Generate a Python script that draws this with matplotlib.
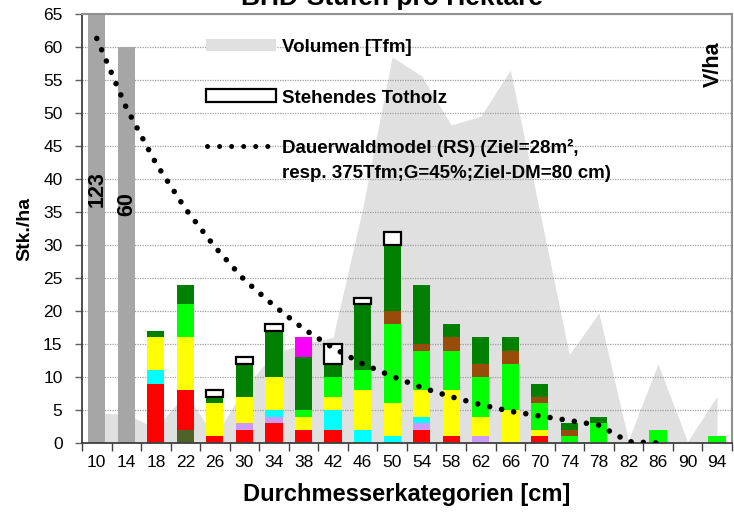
#!/usr/bin/python3
"""
	BHD-Stufen pro Hektare: Stammzahl nach Durchmesserkategorie.

"""
import matplotlib
matplotlib.use('Agg')
import matplotlib.pyplot as plt
import numpy as np
from matplotlib.patches import Rectangle
from matplotlib.lines import Line2D

plt.rcParams['font.family'] = ['Liberation Sans', 'DejaVu Sans']

kategorien = ['10', '14', '18', '22', '26', '30', '34', '38', '42', '46', '50',
              '54', '58', '62', '66', '70', '74', '78', '82', '86', '90', '94']

# Stk./ha pro Farbe (von unten nach oben gestapelt)
grau        = [123, 60, 0, 0, 0, 0, 0, 0, 0, 0, 0, 0, 0, 0, 0, 0, 0, 0, 0, 0, 0, 0]
oliv        = [0, 0, 0, 2, 0, 0, 0, 0, 0, 0, 0, 0, 0, 0, 0, 0, 0, 0, 0, 0, 0, 0]
rot         = [0, 0, 9, 6, 1, 2, 3, 2, 2, 0, 0, 2, 1, 0, 0, 1, 0, 0, 0, 0, 0, 0]
lila        = [0, 0, 0, 0, 0, 1, 1, 0, 0, 0, 0, 1, 0, 1, 0, 0, 0, 0, 0, 0, 0, 0]
tuerkis     = [0, 0, 2, 0, 0, 0, 1, 0, 3, 2, 1, 1, 0, 0, 0, 0, 0, 0, 0, 0, 0, 0]
gelb        = [0, 0, 5, 8, 5, 4, 5, 2, 2, 6, 5, 4, 7, 3, 5, 1, 0, 0, 0, 0, 0, 0]
hellgruen   = [0, 0, 0, 5, 0, 0, 0, 1, 3, 3, 12, 6, 6, 6, 7, 4, 1, 3, 0, 2, 0, 1]
braun       = [0, 0, 0, 0, 0, 0, 0, 0, 0, 0, 2, 1, 2, 2, 2, 1, 1, 0, 0, 0, 0, 0]
dunkelgruen = [0, 0, 1, 3, 1, 5, 7, 8, 2, 10, 10, 9, 2, 4, 2, 2, 1, 1, 0, 0, 0, 0]
magenta     = [0, 0, 0, 0, 0, 0, 0, 3, 0, 0, 0, 0, 0, 0, 0, 0, 0, 0, 0, 0, 0, 0]
totholz     = [0, 0, 0, 0, 1, 1, 1, 0, 3, 1, 2, 0, 0, 0, 0, 0, 0, 0, 0, 0, 0, 0]

# Dauerwaldmodel (Stk./ha)
dauerwald = [61.3, 50.8, 42.4, 35.5, 29.7, 24.7, 20.8, 17.3, 14.4, 12.0, 10.1,
             8.4, 7.0, 5.8, 4.8, 4.1, 3.4, 2.7, 0.2, 0.0, np.nan, np.nan]

# Volumen (V/ha, Sekundaerachse ohne Beschriftung)
volumen = [4.5, 4.4, 2.2, 7.5, 1.0, 8.3, 13.6, 15.0, 16.0, 35.5, 58.5,
           55.6, 48.2, 49.5, 56.5, 35.0, 13.4, 19.7, 0.4, 12.0, 0.2, 7.1]


def bhd_chart():
	''' gestapelte Balken der Stammzahlen mit Volumen und Dauerwaldmodel '''

	fig = plt.figure(figsize=(7.34, 5.16), dpi=100)
	ax = fig.add_axes([0.1117, 0.1415, 0.8853, 0.8314])
	ax_v = ax.twinx()
	ax.set_zorder(ax_v.get_zorder() + 1)
	ax.patch.set_visible(False)

	pos = np.arange(len(kategorien))
	breite = 0.58

	# Volumen als Flaeche im Hintergrund
	ax_v.fill_between(pos, volumen, color='#e0e0e0', linewidth=0)
	ax_v.set_ylim(0, 65)
	ax_v.set_yticks([])
	for s in ax_v.spines.values():
		s.set_visible(False)

	ax.bar(pos, grau, breite, color='#a6a6a6', zorder=2)

	schichten = [(oliv, '#4f6228'), (rot, '#ff0000'), (lila, '#cc99ff'),
	             (tuerkis, '#00ffff'), (gelb, '#ffff00'), (hellgruen, '#00ff00'),
	             (braun, '#994c0a'), (dunkelgruen, '#008000'), (magenta, '#ff00ff')]
	unten = np.zeros(len(pos))
	for werte, farbe in schichten:
		ax.bar(pos, werte, breite, bottom=unten, color=farbe, zorder=2)
		unten += np.array(werte)

	# stehendes Totholz als leerer Kasten oben auf dem Stapel
	tot = np.array(totholz)
	mit = tot > 0
	ax.bar(pos[mit], tot[mit], breite, bottom=unten[mit], facecolor='white',
	       edgecolor='black', linewidth=1.6, zorder=3)

	ax.plot(pos, dauerwald, color='black', linewidth=4.0,
	        linestyle=(0, (0.01, 2.2)), dash_capstyle='round', zorder=5)

	# Werte der abgeschnittenen Balken
	ax.text(0, 38.5, '123', rotation=90, ha='center', va='center',
	        fontsize=15.5, fontweight='bold', zorder=6)
	ax.text(1, 36.2, '60', rotation=90, ha='center', va='center',
	        fontsize=15.5, fontweight='bold', zorder=6)

	ax.set_xlim(-0.5, len(pos) - 0.5)
	ax.set_ylim(0, 65)
	ax.set_yticks(np.arange(0, 70, 5))
	ax.yaxis.grid(True, color='#a0a0a0', linestyle=(0, (1, 1)), linewidth=0.9)
	ax.set_axisbelow(True)

	ax.set_xticks(pos)
	ax.set_xticklabels(kategorien)
	ax.set_xticks(np.arange(-0.5, len(pos), 1), minor=True)
	ax.tick_params(axis='x', which='major', length=0, pad=9, labelsize=12.5)
	ax.tick_params(axis='x', which='minor', length=6, width=1, color='#404040')
	ax.tick_params(axis='y', length=5, width=1, color='#606060', pad=9, labelsize=12.5)

	for side in ['top', 'right']:
		ax.spines[side].set_color('#909090')
		ax.spines[side].set_linewidth(1.5)
	for side in ['left', 'bottom']:
		ax.spines[side].set_color('#404040')
		ax.spines[side].set_linewidth(1.3)

	ax.set_ylabel('Stk./ha', fontsize=14, fontweight='bold')
	ax.yaxis.set_label_coords(-0.0754, 0.5)
	ax.set_xlabel('Durchmesserkategorien [cm]', fontsize=17, fontweight='bold')
	ax.xaxis.set_label_coords(0.5, -0.093)
	ax.text(0.972, 0.883, 'V/ha', rotation=90, ha='center', va='center',
	        fontsize=15.5, fontweight='bold', transform=ax.transAxes)

	fig.text(392 / 734, 1 - 5.5 / 516, 'BHD-Stufen pro Hektare', ha='center',
	         va='baseline', fontsize=19, fontweight='bold')

	# Legende
	ax.add_patch(Rectangle((0.1908, 0.9145), 0.107, 0.0272, transform=ax.transAxes,
	                       facecolor='#e0e0e0', edgecolor='none', zorder=6))
	ax.add_patch(Rectangle((0.1908, 0.7956), 0.107, 0.0289, transform=ax.transAxes,
	                       facecolor='white', edgecolor='black', linewidth=1.6, zorder=6))
	ax.add_line(Line2D([0.1923, 0.2900], [0.6923, 0.6923], transform=ax.transAxes,
	                   color='black', linewidth=3.6, linestyle=(0, (0.01, 2.4)),
	                   dash_capstyle='round', zorder=6))
	ax.text(0.308, 0.923, 'Volumen [Tfm]', transform=ax.transAxes, va='center',
	        fontsize=13.5, fontweight='bold', zorder=6)
	ax.text(0.308, 0.802, 'Stehendes Totholz', transform=ax.transAxes, va='center',
	        fontsize=13.5, fontweight='bold', zorder=6)
	ax.text(0.308, 0.6587, 'Dauerwaldmodel (RS) (Ziel=28m²,\nresp. 375Tfm;G=45%;Ziel-DM=80 cm)',
	        transform=ax.transAxes, va='center', linespacing=1.6,
	        fontsize=13.5, fontweight='bold', zorder=6)

	fig.savefig('out.png', dpi=100)


if __name__ == "__main__":
	bhd_chart()
